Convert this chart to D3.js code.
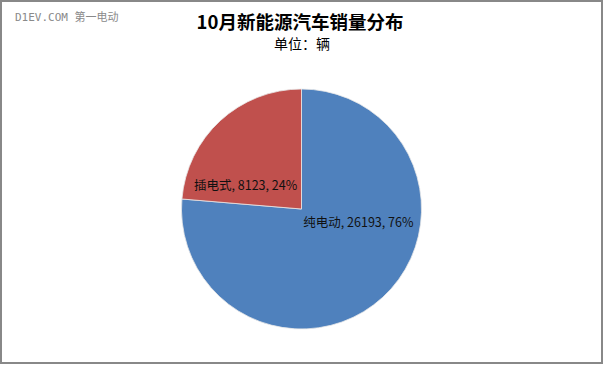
<!DOCTYPE html>
<html>
<head>
<meta charset="utf-8">
<script src="https://cdn.jsdelivr.net/npm/d3@7"></script>
<style>
  body { margin: 0; background: #fff; }
  svg { display: block; }
</style>
</head>
<body>
<div id="chart"></div>
<script>
// chart data
var categories = ["纯电动", "插电式"];
var sales = [26193, 8123];
var percents = ["76%", "24%"];
var colors = ["#4f81bd", "#c0504d"];

var width = 604, height = 365;
var cx = 301.5, cy = 209, radius = 120;

var svg = d3.select("#chart")
  .append("svg")
    .attr("width", width)
    .attr("height", height);

// frame
svg.append("rect")
  .attr("x", 1).attr("y", 1)
  .attr("width", width - 3).attr("height", height - 3)
  .attr("fill", "#fff")
  .attr("stroke", "#888")
  .attr("stroke-width", 2);

// watermark
svg.append("text")
  .attr("x", 15).attr("y", 21)
  .attr("fill", "#8a8a8a")
  .style("font-family", "'DejaVu Sans Mono', 'Noto Sans CJK SC', monospace")
  .style("font-size", "11px")
  .text("D1EV.COM 第一电动");

// title
svg.append("text")
  .attr("x", 300).attr("y", 29)
  .attr("text-anchor", "middle")
  .style("font-family", "'Noto Sans CJK SC', sans-serif")
  .style("font-size", "18.5px")
  .style("font-weight", "bold")
  .text("10月新能源汽车销量分布");

svg.append("text")
  .attr("x", 302).attr("y", 49)
  .attr("text-anchor", "middle")
  .style("font-family", "'Noto Sans CJK SC', sans-serif")
  .style("font-size", "14px")
  .text("单位：辆");

var data = categories.map(function(c, i) {
  return {name: c, value: sales[i], pct: percents[i], color: colors[i]};
});

var pie = d3.pie()
  .sort(null)
  .value(function(d) { return d.value; });

var arc = d3.arc().innerRadius(0).outerRadius(radius);

var g = svg.append("g")
  .attr("transform", "translate(" + cx + "," + cy + ")");

var arcs = pie(data);

g.selectAll("path")
  .data(arcs)
  .enter()
  .append("path")
    .attr("d", arc)
    .attr("fill", function(d) { return d.data.color; })
    .attr("stroke", "#e8e8e8")
    .attr("stroke-width", 0.8);

// labels, positioned from each slice's centroid
var labelArc = d3.arc().innerRadius(radius * 0.38).outerRadius(radius * 0.38);
var labelOffsets = [[26, -20], [-25, 10]];

g.selectAll("text.lbl")
  .data(arcs)
  .enter()
  .append("text")
    .attr("class", "lbl")
    .attr("transform", function(d, i) {
      var c = labelArc.centroid(d);
      return "translate(" + (c[0] + labelOffsets[i][0]) + "," + (c[1] + labelOffsets[i][1]) + ")";
    })
    .attr("text-anchor", "middle")
    .attr("dy", "0.35em")
    .style("font-family", "'Noto Sans CJK SC', sans-serif")
    .style("font-size", "12.5px")
    .attr("fill", "#111")
    .text(function(d) { return d.data.name + ", " + d.data.value + ", " + d.data.pct; });
</script>
</body>
</html>
